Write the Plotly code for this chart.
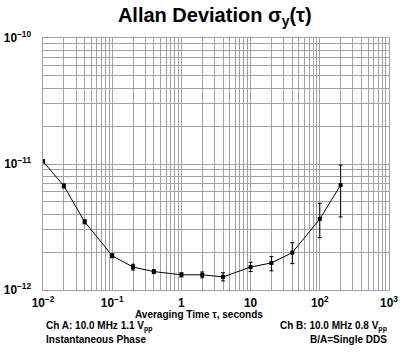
import plotly.graph_objects as go

tau = [0.01, 0.02, 0.04, 0.1, 0.2, 0.4, 1, 2, 4, 10, 20, 40, 100, 200]
adev = [1.05e-11, 6.7e-12, 3.48e-12, 1.87e-12, 1.52e-12, 1.40e-12, 1.32e-12,
        1.32e-12, 1.27e-12, 1.52e-12, 1.64e-12, 1.98e-12, 3.66e-12, 6.8e-12]
err_plus = [0.03e-11, 0.25e-12, 0.13e-12, 0.07e-12, 0.08e-12, 0.05e-12, 0.05e-12,
            0.07e-12, 0.10e-12, 0.14e-12, 0.20e-12, 0.39e-12, 1.22e-12, 3.0e-12]
err_minus = [0.03e-11, 0.25e-12, 0.13e-12, 0.07e-12, 0.08e-12, 0.05e-12, 0.05e-12,
             0.07e-12, 0.09e-12, 0.12e-12, 0.22e-12, 0.36e-12, 1.06e-12, 3.0e-12]

FONT = "Liberation Sans"
GRID = "#a2a2a2"

fig = go.Figure()
fig.add_trace(go.Scatter(
    x=tau, y=adev, mode="lines+markers",
    line=dict(color="black", width=1),
    marker=dict(symbol="square", size=4, color="black"),
    error_y=dict(type="data", array=err_plus, arrayminus=err_minus,
                 color="black", thickness=1, width=2),
    showlegend=False,
))

fig.update_layout(
    width=400, height=352,
    margin=dict(l=43, r=11, t=38, b=62),
    paper_bgcolor="white", plot_bgcolor="white",
    font=dict(family=FONT, color="black"),
    title=dict(text="<b>Allan Deviation σ<sub>y</sub>(τ)</b>",
               x=0.537, xanchor="center", y=0.957, yanchor="middle",
               font=dict(size=20, family=FONT)),
)

fig.update_xaxes(
    type="log", range=[-2, 3], dtick=1, exponentformat="power",
    showgrid=True, gridcolor=GRID, gridwidth=1,
    minor=dict(dtick="D1", showgrid=True, gridcolor=GRID, gridwidth=1, ticks=""),
    showline=True, linecolor=GRID, linewidth=1, mirror=True,
    ticks="", ticklabelstandoff=2, automargin=False,
    tickfont=dict(size=9.5, family=FONT, weight="bold"),
    zeroline=False,
)
fig.update_yaxes(
    type="log", range=[-12, -10], dtick=1, exponentformat="power",
    showgrid=True, gridcolor=GRID, gridwidth=1,
    minor=dict(dtick="D1", showgrid=True, gridcolor=GRID, gridwidth=1, ticks=""),
    showline=True, linecolor=GRID, linewidth=1, mirror=True,
    ticks="", ticklabelstandoff=9, automargin=False,
    tickfont=dict(size=9.5, family=FONT, weight="bold"),
    zeroline=False,
)

annots = [
    dict(text="<b>Averaging Time τ, seconds</b>", x=199, y=314, xanchor="center"),
    dict(text="<b>Ch A: 10.0 MHz 1.1 V<sub>pp</sub></b>", x=44, y=326, xanchor="left"),
    dict(text="<b>Instantaneous Phase</b>", x=44, y=339, xanchor="left"),
    dict(text="<b>Ch B: 10.0 MHz 0.8 V<sub>pp</sub></b>", x=389, y=326, xanchor="right"),
    dict(text="<b>B/A=Single DDS</b>", x=389, y=339, xanchor="right"),
]
for a in annots:
    fig.add_annotation(
        text=a["text"], xref="paper", yref="paper",
        x=(a["x"] - 43) / (389 - 43), y=(290 - a["y"]) / (290 - 38),
        xanchor=a["xanchor"], yanchor="middle", showarrow=False,
        font=dict(size=10, family=FONT, color="black"),
    )

fig.write_html("out.html")
